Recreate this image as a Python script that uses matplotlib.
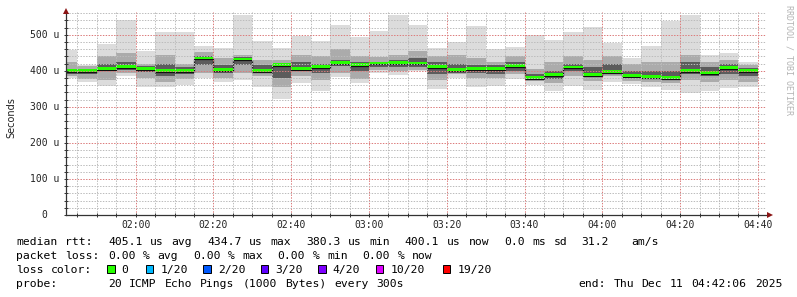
import re
import matplotlib
matplotlib.use("Agg")
import matplotlib.pyplot as plt
import numpy as np
from matplotlib.ticker import MultipleLocator
from matplotlib import transforms

# ---------------- data (microseconds) ----------------
bar_start = "01:40"          # first 5-minute bar start
step_min = 5
median = [401, 401, 405, 412, 407, 401, 401, 435, 404, 432, 400, 418, 406, 412, 423, 417, 421, 422,
          421, 411, 402, 406, 407, 413, 380, 388, 410, 390, 398, 387, 383, 381, 401, 394, 408, 400]
ping_max = [458, 415, 475, 542, 455, 507, 508, 468, 463, 555, 483, 463, 497, 483, 527, 493, 509, 555,
            526, 463, 481, 523, 460, 465, 500, 484, 507, 521, 477, 435, 468, 539, 555, 444, 450, 424]
ping_min = [380, 370, 358, 386, 356, 355, 360, 381, 368, 375, 354, 321, 366, 344, 382, 366, 395, 389,
            398, 349, 380, 355, 359, 377, 361, 343, 359, 348, 370, 363, 356, 348, 339, 343, 352, 355]
mid_hi = [425, 412, 440, 450, 420, 445, 420, 452, 435, 445, 430, 430, 445, 440, 460, 440, 438, 445,
          455, 440, 445, 435, 425, 440, 405, 425, 440, 430, 440, 420, 425, 425, 445, 425, 430, 415]
mid_lo = [385, 378, 375, 395, 380, 370, 378, 395, 380, 395, 385, 355, 385, 375, 395, 378, 402, 400,
          402, 375, 390, 380, 380, 390, 372, 365, 385, 372, 385, 372, 368, 365, 375, 370, 375, 370]
core_hi = [405, 405, 418, 425, 412, 420, 410, 442, 415, 437, 415, 420, 425, 420, 430, 425, 425, 430,
           435, 425, 420, 415, 415, 425, 392, 400, 420, 410, 420, 400, 400, 400, 425, 410, 418, 408]
core_lo = [392, 390, 398, 402, 397, 385, 390, 415, 395, 415, 393, 380, 398, 395, 412, 400, 410, 410,
           410, 390, 395, 395, 392, 400, 376, 378, 398, 382, 392, 380, 376, 374, 390, 385, 392, 385]

x_tick_labels = ["02:00", "02:20", "02:40", "03:00", "03:20", "03:40", "04:00", "04:20", "04:40"]
y_tick_values = [0, 100, 200, 300, 400, 500]
y_tick_labels = ["0", "100 u", "200 u", "300 u", "400 u", "500 u"]
view_start = "01:42:06"
view_end = "04:42:06"

line_rtt = "median rtt:  405.1 us avg  434.7 us max  380.3 us min  400.1 us now  0.0 ms sd  31.2   am/s"
line_loss = "packet loss: 0.00 % avg  0.00 % max  0.00 % min  0.00 % now"
loss_labels = ["0", "1/20", "2/20", "3/20", "4/20", "10/20", "19/20"]
loss_colors = ["#26ff00", "#00b8ff", "#0059ff", "#5e00ff", "#7e00ff", "#dd00ff", "#ff0000"]
line_probe = "probe:       20 ICMP Echo Pings (1000 Bytes) every 300s"
line_end = "end: Thu Dec 11 04:42:06 2025"


def to_min(s):
    parts = [int(p) for p in s.split(":")]
    while len(parts) < 3:
        parts.append(0)
    return parts[0] * 60 + parts[1] + parts[2] / 60.0


# ---------------- figure ----------------
W, H = 797, 297
fig = plt.figure(figsize=(W / 100, H / 100), dpi=100)
fig.patch.set_facecolor("white")
L, R, B, T = 66, 766, 215, 12
ax = fig.add_axes([L / W, 1 - B / H, (R - L) / W, (B - T) / H])
MONO = "DejaVu Sans Mono"

n = len(median)
starts = to_min(bar_start) + step_min * np.arange(n)
med = np.array(median, dtype=float)

xmin, xmax = to_min(view_start), to_min(view_end)
ax.set_xlim(xmin, xmax)
ax.set_ylim(0, 563)

# smoke
ax.bar(starts, np.array(ping_max) - np.array(ping_min), bottom=ping_min, width=step_min,
       align="edge", color="#dcdcdc", linewidth=0, zorder=1)
ax.bar(starts, np.array(mid_hi) - np.array(mid_lo), bottom=mid_lo, width=step_min,
       align="edge", color="#ababab", linewidth=0, zorder=1.1)
ax.bar(starts, np.array(core_hi) - np.array(core_lo), bottom=core_lo, width=step_min,
       align="edge", color="#5c5c5c", linewidth=0, zorder=1.2)
# median
edges = np.append(starts, starts[-1] + step_min)
ax.stairs(med - 3.5, edges, baseline=None, color="#101010", linewidth=0.9, zorder=1.8)
ax.bar(starts, 8, bottom=med - 3.5, width=step_min, align="edge",
       color=loss_colors[0], linewidth=0, zorder=1.9)

# grid
ax.xaxis.set_major_locator(MultipleLocator(20))
ax.xaxis.set_minor_locator(MultipleLocator(5))
ax.yaxis.set_major_locator(MultipleLocator(100))
ax.yaxis.set_minor_locator(MultipleLocator(20))
ax.set_axisbelow(False)
ax.grid(which="minor", color="#bcbcbc", linestyle=(0, (1.4, 1.4)), linewidth=0.72,
        snap=True)
ax.grid(which="major", color="#dc7c7c", linestyle=(0, (1.4, 1.4)), linewidth=0.72,
        snap=True)
ax.tick_params(which="both", direction="inout", length=3, width=0.7, color="#333333",
               labelbottom=False, labelleft=False)
for s in ("top", "right"):
    ax.spines[s].set_visible(False)
for s in ("left", "bottom"):
    ax.spines[s].set_color("#333333")
    ax.spines[s].set_linewidth(0.9)

# arrows
ax.plot([xmin], [563 + 3], marker="^", ms=5, color="#8b1414", mew=0, clip_on=False, zorder=5)
ax.plot([xmax + 1.0], [0], marker=">", ms=5, color="#8b1414", mew=0, clip_on=False, zorder=5)

# tick labels
xt = transforms.offset_copy(ax.get_xaxis_transform(), fig=fig, x=0, y=-13.3, units="dots")
for lab in x_tick_labels:
    ax.text(to_min(lab), 0, lab, transform=xt, ha="center", va="baseline",
            family=MONO, fontsize=7, color="#222222")
yt = transforms.offset_copy(ax.get_yaxis_transform(), fig=fig, x=-7, y=-3, units="dots")
yt0 = transforms.offset_copy(ax.get_yaxis_transform(), fig=fig, x=-19, y=-3, units="dots")
for v, lab in zip(y_tick_values, y_tick_labels):
    ax.text(0, v, lab, transform=(yt0 if v == 0 else yt), ha="right", va="baseline",
            family=MONO, fontsize=7, color="#222222")

fig.text(11 / W, 1 - 118 / H, "Seconds", rotation=90, ha="center", va="center",
         family="DejaVu Sans", fontsize=7, color="#222222")
fig.text(788.5 / W, 1 - 60 / H, "RRDTOOL / TOBI OETIKER", rotation=270, ha="center",
         va="center", family=MONO, fontsize=6, color="#b4b4b4")

# legend text (one text per word, placed on the monospace column grid)
CW = 7.07
FS = 8.2


def put_line(text, x0, yb):
    for m in re.finditer(r"\S+", text):
        fig.text((x0 + m.start() * CW) / W, 1 - yb / H, m.group(), ha="left", va="baseline",
                 family=MONO, fontsize=FS, color="black")


put_line(line_rtt, 16, 245)
put_line(line_loss, 16, 259)
put_line("loss color:", 16, 273)
put_line(line_probe, 16, 287)
put_line(line_end, 578, 287)

box_x = [107, 145.7, 203.3, 260.7, 318.3, 375.7, 442.7]
for bx, lab, col in zip(box_x, loss_labels, loss_colors):
    fig.patches.append(plt.Rectangle((bx / W, 1 - 272.5 / H), 7.5 / W, 7.5 / H,
                                     transform=fig.transFigure, facecolor=col,
                                     edgecolor="black", linewidth=0.7))
    fig.text((bx + 14.5) / W, 1 - 273 / H, lab, ha="left", va="baseline",
             family=MONO, fontsize=FS, color="black")

fig.savefig("out.png", dpi=100, facecolor="white")
